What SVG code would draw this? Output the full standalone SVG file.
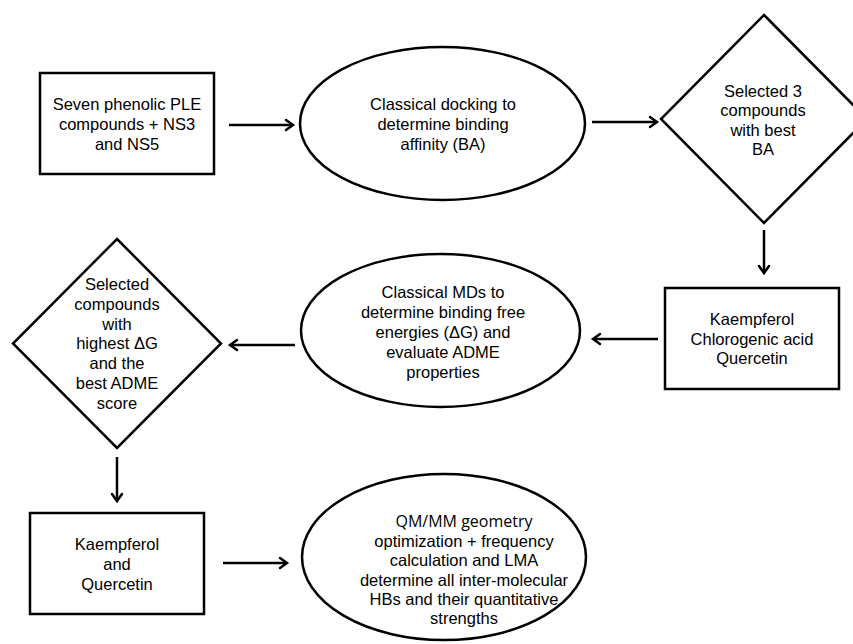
<svg xmlns="http://www.w3.org/2000/svg" width="853" height="644" viewBox="0 0 853 644">
<defs>
<style>
.shape{fill:#fff;stroke:#000;stroke-width:2.5}
.conn{fill:none;stroke:#000;stroke-width:2.5}
.head{fill:none;stroke:#000;stroke-width:2.5;stroke-linecap:round;stroke-linejoin:miter}
text{font-family:"Liberation Sans",Arial,sans-serif;font-size:16.5px;fill:#000;text-anchor:middle}
.alt{font-family:"Open Sans","Liberation Sans",sans-serif;font-size:16px}
</style>
</defs>
<rect width="853" height="644" fill="#fff"/>
<g id="n1">
<rect class="shape" x="40" y="73" width="174" height="101"/>
<text x="127" y="110">Seven phenolic PLE</text>
<text x="127" y="130">compounds + NS3</text>
<text x="127" y="150">and NS5</text>
</g>
<g id="n2">
<ellipse class="shape" cx="442.5" cy="123.5" rx="142.5" ry="76.5"/>
<text x="443" y="110">Classical docking to</text>
<text x="443" y="130">determine binding</text>
<text x="443" y="150">affinity (BA)</text>
</g>
<g id="n3">
<polygon class="shape" points="764,15 867,119 764,223 661,119"/>
<text x="763" y="96.5">Selected 3</text>
<text x="763" y="116">compounds</text>
<text x="763" y="135.5">with best</text>
<text x="763" y="155">BA</text>
</g>
<g id="n4">
<rect class="shape" x="665" y="288" width="174" height="101"/>
<text x="752" y="325">Kaempferol</text>
<text x="752" y="344.5">Chlorogenic acid</text>
<text x="752" y="364">Quercetin</text>
</g>
<g id="n5">
<ellipse class="shape" cx="440.5" cy="330.5" rx="139.5" ry="76.5"/>
<text x="443" y="298">Classical MDs to</text>
<text x="443" y="318">determine binding free</text>
<text x="443" y="338">energies (ΔG) and</text>
<text x="443" y="358">evaluate ADME</text>
<text x="443" y="378">properties</text>
</g>
<g id="n6">
<polygon class="shape" points="117,239 221,343.5 117,448 13,343.5"/>
<text x="117" y="290">Selected</text>
<text x="117" y="309.8">compounds</text>
<text x="117" y="329.6">with</text>
<text x="117" y="349.4">highest ΔG</text>
<text x="117" y="369.2">and the</text>
<text x="117" y="389">best ADME</text>
<text x="117" y="408.8">score</text>
</g>
<g id="n7">
<rect class="shape" x="30" y="513" width="174" height="101"/>
<text x="117" y="550">Kaempferol</text>
<text x="117" y="570">and</text>
<text x="117" y="589.5">Quercetin</text>
</g>
<g id="n8">
<ellipse class="shape" cx="444" cy="557" rx="142" ry="83"/>
<text class="alt" x="464" y="527">QM/MM geometry</text>
<text x="464" y="547">optimization + frequency</text>
<text x="464" y="566">calculation and LMA</text>
<text x="464" y="585.5">determine all inter-molecular</text>
<text x="464" y="605">HBs and their quantitative</text>
<text x="464" y="624">strengths</text>
</g>
<g id="connectors">
<line class="conn" x1="229" y1="125" x2="292" y2="125"/>
<polyline class="head" points="286,120 293,125 286,130"/>
<line class="conn" x1="592" y1="122" x2="656" y2="122"/>
<polyline class="head" points="650,117 657,122 650,127"/>
<line class="conn" x1="764" y1="230" x2="764" y2="272"/>
<polyline class="head" points="759,266 764,273 769,266"/>
<line class="conn" x1="658" y1="339" x2="594" y2="339"/>
<polyline class="head" points="600,334 593,339 600,344"/>
<line class="conn" x1="295" y1="345" x2="231" y2="345"/>
<polyline class="head" points="237,340 230,345 237,350"/>
<line class="conn" x1="117" y1="457" x2="117" y2="500"/>
<polyline class="head" points="112,494 117,501 122,494"/>
<line class="conn" x1="223" y1="563" x2="286" y2="563"/>
<polyline class="head" points="280,558 287,563 280,568"/>
</g>
</svg>
